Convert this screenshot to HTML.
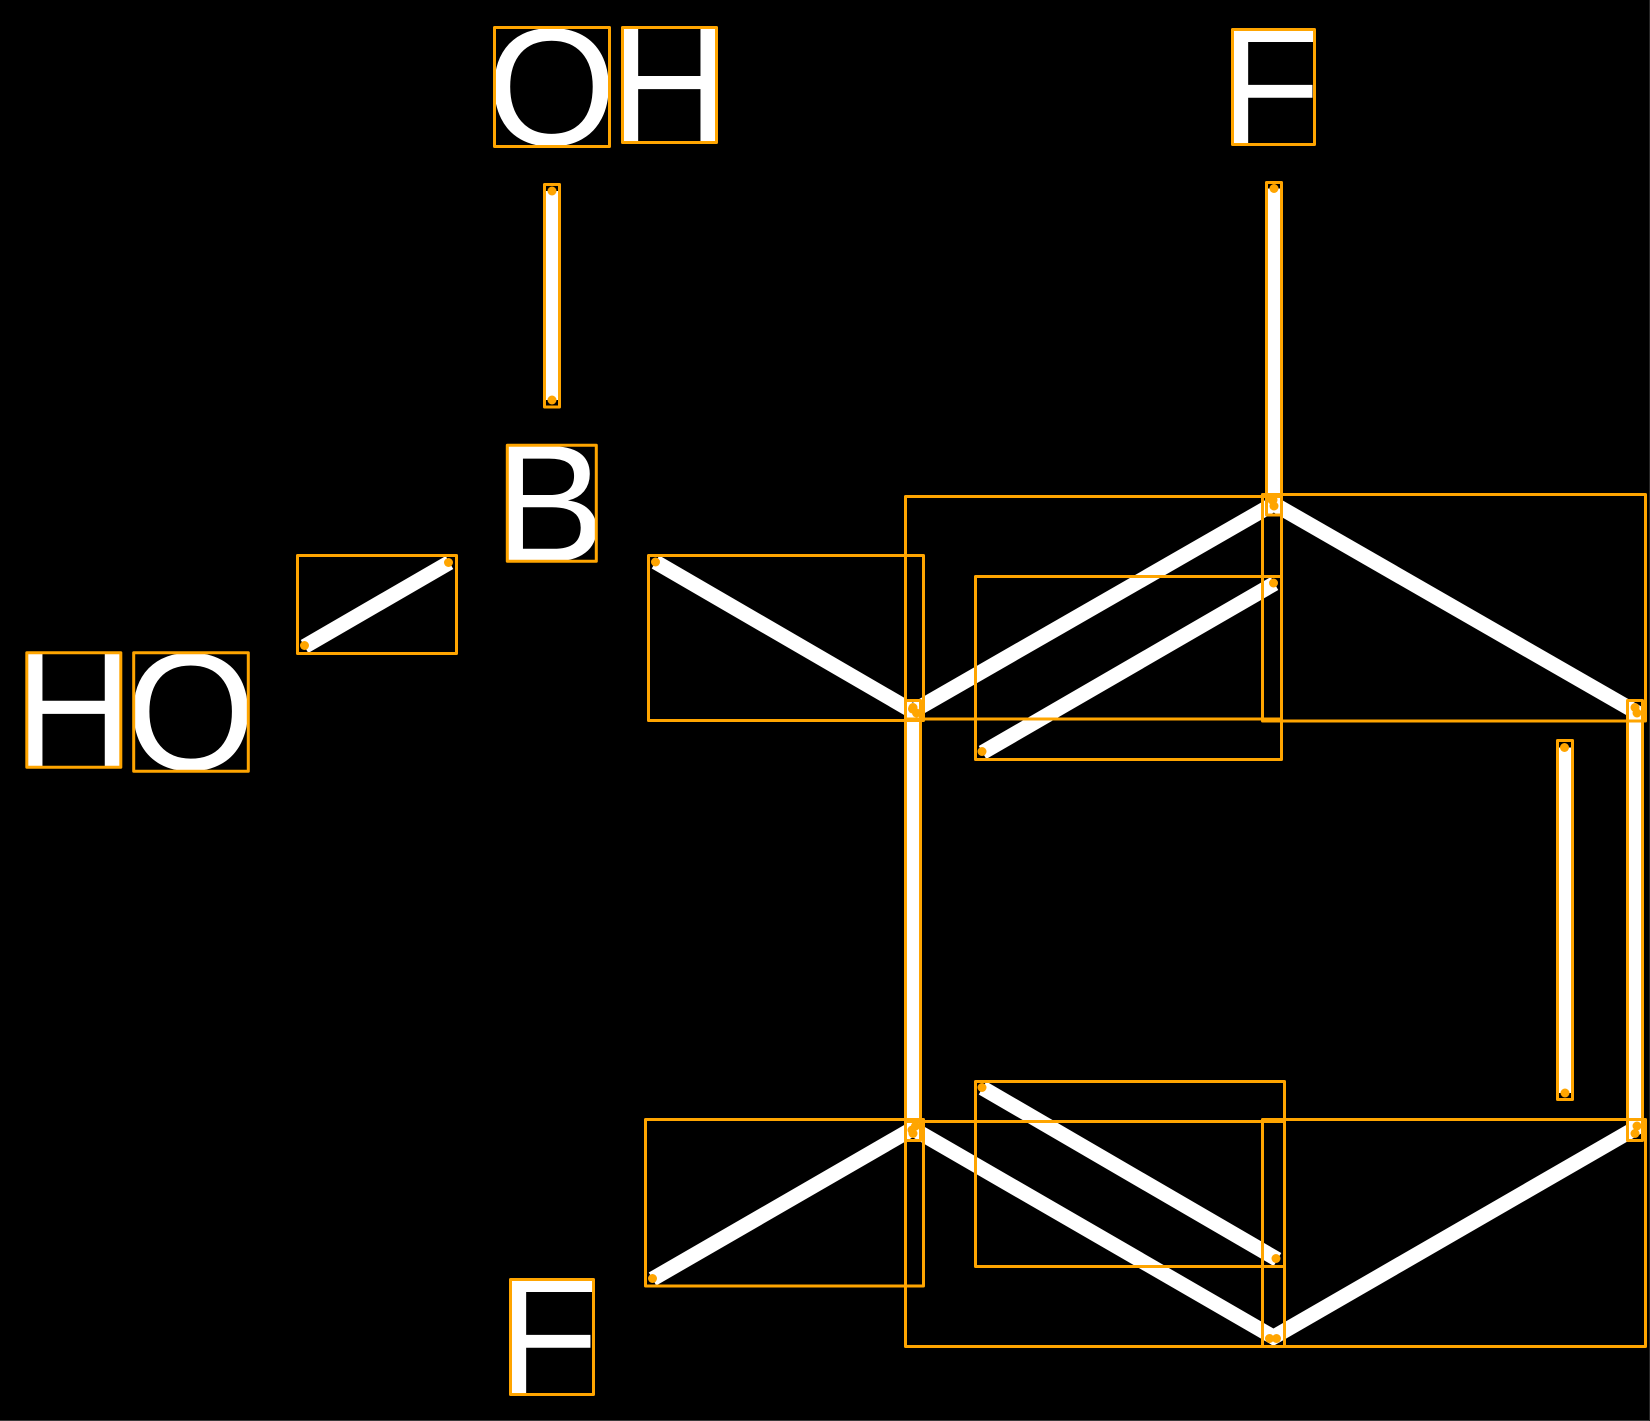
<!DOCTYPE html>
<html>
<head>
<meta charset="utf-8">
<style>
html,body{margin:0;padding:0;background:#000;width:1650px;height:1421px;overflow:hidden}
svg{display:block}
text{font-family:"Liberation Sans",sans-serif;font-size:167.5px;fill:#fff;text-rendering:geometricPrecision}
.b line{stroke:#fff;stroke-width:15;stroke-linecap:butt}
.r rect{fill:none;stroke:#ffa500;stroke-width:3;stroke-linejoin:round}
.d circle{fill:#ffa500}
</style>
</head>
<body>
<svg width="1650" height="1421" viewBox="0 0 1650 1421" xmlns="http://www.w3.org/2000/svg">
<rect width="1650" height="1421" fill="#000"/>
<rect x="0" y="1420" width="1650" height="1" fill="#3a3a3a"/>
<rect x="1649" y="0" width="1" height="1421" fill="#262626"/>

<text x="486.4" y="144.9">O</text>
<text x="608.8" y="142.5">H</text>
<text x="1218.8" y="144.5">F</text>
<text x="493.6" y="561.3">B</text>
<text x="13.1" y="767.3">H</text>
<text x="125.6" y="769.7">O</text>
<text x="496.8" y="1394.5">F</text>

<g class="b">
<line x1="552" y1="191" x2="552" y2="400"/>
<line x1="1274" y1="188.5" x2="1274" y2="508"/>
<line x1="304.5" y1="646.5" x2="449.5" y2="562.5"/>
<line x1="655.5" y1="562" x2="916.5" y2="713.5"/>
<line x1="912.5" y1="711.5" x2="1274.5" y2="503.5"/>
<line x1="982.5" y1="752.5" x2="1274.5" y2="583.5"/>
<line x1="1269.5" y1="501.5" x2="1638.5" y2="713.5"/>
<line x1="913" y1="707.5" x2="913" y2="1133.5"/>
<line x1="1635" y1="707.5" x2="1635" y2="1133.5"/>
<line x1="1565" y1="747.5" x2="1565" y2="1093"/>
<line x1="652.5" y1="1279" x2="916.5" y2="1126.5"/>
<line x1="912.5" y1="1128.5" x2="1277.5" y2="1339.5"/>
<line x1="982.5" y1="1088" x2="1277.5" y2="1259.5"/>
<line x1="1269.5" y1="1339.5" x2="1638.5" y2="1126.5"/>
</g>

<g class="r">
<rect x="494.5" y="27.5" width="115" height="119"/>
<rect x="622.5" y="27.5" width="94" height="115"/>
<rect x="1232.5" y="29.5" width="82" height="115"/>
<rect x="507.3" y="445.3" width="89" height="116"/>
<rect x="26.8" y="652.7" width="94" height="114.6"/>
<rect x="133.7" y="652.7" width="114.6" height="118.6"/>
<rect x="510.5" y="1279.5" width="83" height="115"/>
<rect x="544.5" y="184.5" width="15" height="222.5"/>
<rect x="1266.5" y="182.5" width="15" height="332.5"/>
<rect x="297.5" y="555.5" width="159" height="98"/>
<rect x="648.5" y="555.5" width="275" height="165"/>
<rect x="905.5" y="496.5" width="376" height="222.5"/>
<rect x="975.5" y="576.5" width="306" height="183"/>
<rect x="1262.5" y="494.5" width="383" height="226.5"/>
<rect x="905.5" y="700.5" width="15" height="440"/>
<rect x="1627.5" y="700.5" width="15" height="440"/>
<rect x="1557.5" y="740.5" width="15" height="359"/>
<rect x="645.5" y="1119.5" width="278" height="166.5"/>
<rect x="905.5" y="1121.5" width="379" height="225"/>
<rect x="975.5" y="1081.5" width="309" height="185"/>
<rect x="1262.5" y="1119.5" width="383" height="227"/>
</g>

<g class="d">
<circle cx="552" cy="191" r="4.5"/><circle cx="552" cy="400" r="4.5"/>
<circle cx="1274" cy="188.5" r="4.5"/><circle cx="1274" cy="506" r="4.5"/>
<circle cx="304.5" cy="645.5" r="4.5"/><circle cx="448.5" cy="562.5" r="4.5"/>
<circle cx="655.5" cy="562" r="4.5"/><circle cx="916.5" cy="713" r="4.5"/>
<circle cx="912.5" cy="709" r="4.5"/><circle cx="1273" cy="500" r="4.5"/>
<circle cx="982" cy="751.5" r="4.5"/><circle cx="1273.5" cy="583" r="4.5"/>
<circle cx="1272" cy="500" r="4.5"/><circle cx="1637" cy="713" r="4.5"/>
<circle cx="913" cy="707.5" r="4.5"/><circle cx="913" cy="1133.5" r="4.5"/>
<circle cx="1635" cy="707.5" r="4.5"/><circle cx="1635" cy="1133.5" r="4.5"/>
<circle cx="1564.5" cy="747.5" r="4.5"/><circle cx="1565" cy="1093" r="4.5"/>
<circle cx="652.5" cy="1278.5" r="4.5"/><circle cx="915.5" cy="1126" r="4.5"/>
<circle cx="912" cy="1130" r="4.5"/><circle cx="1276.5" cy="1338.5" r="4.5"/>
<circle cx="982" cy="1087.5" r="4.5"/><circle cx="1276" cy="1258.5" r="4.5"/>
<circle cx="1269.5" cy="1338.5" r="4.5"/><circle cx="1637" cy="1126" r="4.5"/>
</g>
</svg>
</body>
</html>
